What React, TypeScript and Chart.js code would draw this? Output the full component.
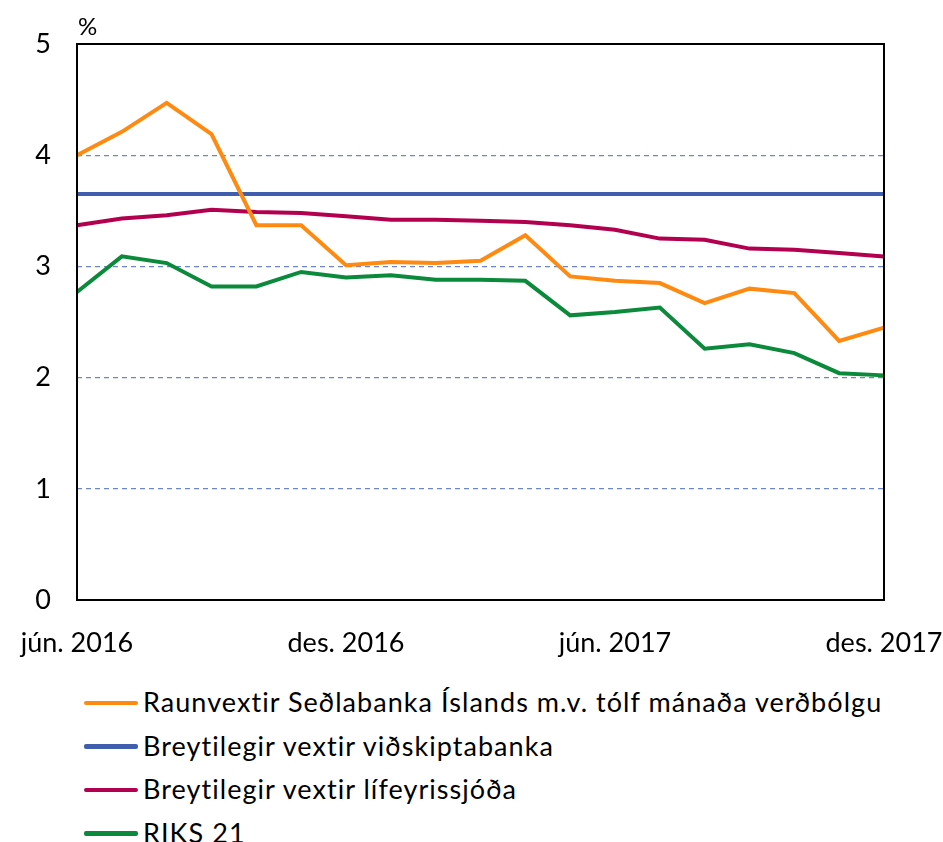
import React, { useEffect, useRef } from "react";
import { Chart, registerables } from "chart.js";

Chart.register(...registerables);

const months = [
  "jún. 2016", "júl. 2016", "ágú. 2016", "sep. 2016", "okt. 2016", "nóv. 2016",
  "des. 2016", "jan. 2017", "feb. 2017", "mar. 2017", "apr. 2017", "maí 2017",
  "jún. 2017", "júl. 2017", "ágú. 2017", "sep. 2017", "okt. 2017", "nóv. 2017",
  "des. 2017",
];
const shownTicks = ["jún. 2016", "des. 2016", "jún. 2017", "des. 2017"];

const raunvextir = [4.0, 4.21, 4.47, 4.19, 3.37, 3.37, 3.01, 3.04, 3.03, 3.05, 3.28, 2.91, 2.87, 2.85, 2.67, 2.8, 2.76, 2.33, 2.45];
const vidskiptabanka = [3.65, 3.65, 3.65, 3.65, 3.65, 3.65, 3.65, 3.65, 3.65, 3.65, 3.65, 3.65, 3.65, 3.65, 3.65, 3.65, 3.65, 3.65, 3.65];
const lifeyrissjoda = [3.37, 3.43, 3.46, 3.51, 3.49, 3.48, 3.45, 3.42, 3.42, 3.41, 3.4, 3.37, 3.33, 3.25, 3.24, 3.16, 3.15, 3.12, 3.09];
const riks21 = [2.77, 3.09, 3.03, 2.82, 2.82, 2.95, 2.9, 2.92, 2.88, 2.88, 2.87, 2.56, 2.59, 2.63, 2.26, 2.3, 2.22, 2.04, 2.02];

const seriesLabels = [
  "Raunvextir Seðlabanka Íslands m.v. tólf mánaða verðbólgu",
  "Breytilegir vextir viðskiptabanka",
  "Breytilegir vextir lífeyrissjóða",
  "RIKS 21",
];
const seriesColors = ["#FF8A12", "#3F5EAE", "#B2004E", "#0B8A3B"];
const yTicks = [0, 1, 2, 3, 4, 5];

const FONT = "Lato, 'Open Sans', sans-serif";

const frame = {
  id: "frame",
  afterDraw(chart: any) {
    const { ctx, chartArea } = chart;
    ctx.save();
    ctx.strokeStyle = "#000";
    ctx.lineWidth = 2;
    ctx.strokeRect(chartArea.left, chartArea.top, chartArea.right - chartArea.left, chartArea.bottom - chartArea.top);
    ctx.fillStyle = "#000";
    ctx.font = "24px " + FONT;
    ctx.textAlign = "left";
    ctx.textBaseline = "alphabetic";
    ctx.fillText("%", chartArea.left + 1, chartArea.top - 9);
    ctx.restore();
  },
};

export default function App() {
  const ref = useRef<HTMLCanvasElement>(null);
  useEffect(() => {
    document.body.style.margin = "0";
    document.documentElement.style.overflow = "hidden";
    if (!ref.current) return;
    const data = [raunvextir, vidskiptabanka, lifeyrissjoda, riks21];
    const chart = new Chart(ref.current, {
      type: "line",
      data: {
        labels: months,
        datasets: data.map((d, i) => ({
          label: seriesLabels[i],
          data: d,
          borderColor: seriesColors[i],
          backgroundColor: seriesColors[i],
          borderWidth: 4,
          pointRadius: 0,
          tension: 0,
        })),
      },
      options: {
        responsive: false,
        animation: false,
        layout: { padding: { top: 44, right: 59, left: 0, bottom: 0 } },
        plugins: { legend: { display: false }, tooltip: { enabled: false } },
        scales: {
          x: {
            grid: { display: false, drawTicks: false },
            border: { display: false },
            afterFit: (s: any) => { s.paddingLeft = 0; s.paddingRight = 0; s.height = 59; },
            ticks: {
              autoSkip: false,
              maxRotation: 0,
              padding: 27,
              color: "#000",
              font: { size: 27, family: FONT },
              callback: (_v: any, i: number) => (shownTicks.includes(months[i]) ? months[i] : ""),
            },
          },
          y: {
            min: 0,
            max: 5,
            afterFit: (s: any) => { s.width = 77; s.paddingTop = 0; s.paddingBottom = 0; },
            afterBuildTicks: (s: any) => { s.ticks = yTicks.map((v) => ({ value: v })); },
            grid: {
              drawTicks: false,
              color: (c: any) => (c.tick && (c.tick.value === 0 || c.tick.value === 5) ? "rgba(0,0,0,0)" : "#6F86C6"),
              lineWidth: 1.2,
            },
            border: { display: false, dash: [5, 4] },
            ticks: {
              padding: 26,
              color: "#000",
              font: { size: 27, family: FONT },
            },
          },
        },
      },
      plugins: [frame],
    });
    return () => chart.destroy();
  }, []);

  return (
    <div style={{ width: 943, fontFamily: FONT }}>
      <canvas ref={ref} width={943} height={659} style={{ display: "block" }} />
      <div style={{ marginTop: 21, paddingLeft: 84 }}>
        {seriesLabels.map((l, i) => (
          <div key={l} style={{ height: 43.5, display: "flex", alignItems: "center" }}>
            <span style={{ display: "inline-block", width: 54, height: 4.5, background: seriesColors[i], borderRadius: 2, marginRight: 5, marginTop: 2 }} />
            <span style={{ fontSize: 27, letterSpacing: 1.05, color: "#000", whiteSpace: "nowrap" }}>{l}</span>
          </div>
        ))}
      </div>
    </div>
  );
}
